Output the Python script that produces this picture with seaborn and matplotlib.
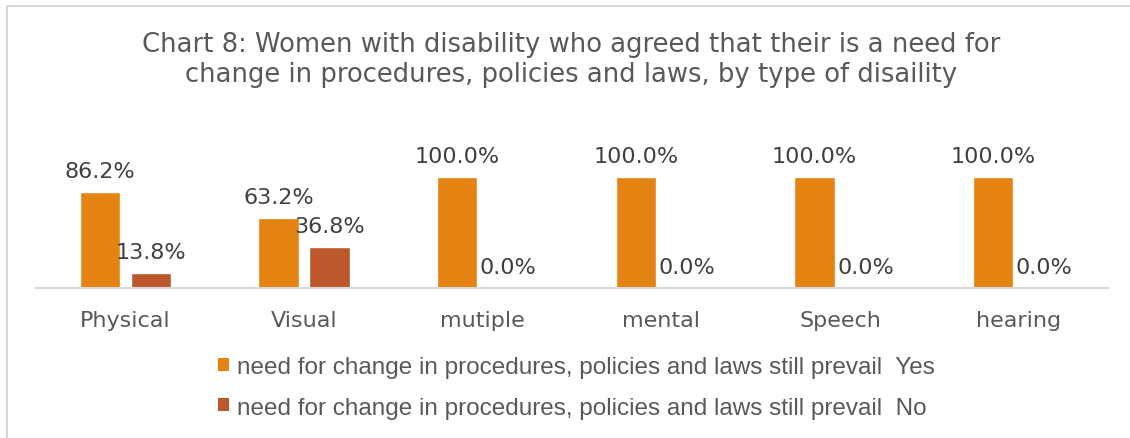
import matplotlib
matplotlib.use("Agg")
import matplotlib.pyplot as plt
from matplotlib.patches import Patch, Rectangle
import seaborn as sns
import pandas as pd

# Data
categories = ["Physical", "Visual", "mutiple", "mental", "Speech", "hearing"]
yes_values = [0.862, 0.632, 1.0, 1.0, 1.0, 1.0]
no_values = [0.138, 0.368, 0.0, 0.0, 0.0, 0.0]
series_names = [
    "need for change in procedures, policies and laws still prevail  Yes",
    "need for change in procedures, policies and laws still prevail  No",
]
title_text = ("Chart 8: Women with disability who agreed that their is a need for\n"
              "change in procedures, policies and laws, by type of disaility")

colors = ["#E48312", "#BD582C"]
text_gray = "#595959"
line_gray = "#D9D9D9"

df = pd.DataFrame({
    "category": categories * 2,
    "value": yes_values + no_values,
    "series": [series_names[0]] * len(categories) + [series_names[1]] * len(categories),
})

sns.set_theme(style="white")
plt.rcParams["font.family"] = ["DejaVu Sans"]

W, H = 1130, 439
fig = plt.figure(figsize=(W / 100, H / 100), dpi=100)
ax = fig.add_axes([36 / W, (H - 289) / H, 1072 / W, 133 / H])

sns.barplot(data=df, x="category", y="value", hue="series", palette=colors,
            width=0.57, gap=0.21, legend=False, ax=ax, saturation=1)

ax.set_ylim(0, 1.2)
ax.set_xlim(-0.5, len(categories) - 0.5)
ax.set_xlabel("")
ax.set_ylabel("")
ax.set_yticks([])
for side in ["top", "right", "left"]:
    ax.spines[side].set_visible(False)
ax.spines["bottom"].set_color(line_gray)
ax.spines["bottom"].set_linewidth(1.5)
ax.tick_params(axis="x", length=0, pad=15.5, labelsize=16, labelcolor=text_gray)

for container, vals in zip(ax.containers, [yes_values, no_values]):
    ax.bar_label(container, labels=[f"{v:.1%}" for v in vals], padding=8,
                 fontsize=16, color="#404040")

fig.text(571 / W, 1 - 60 / H, title_text, ha="center", va="center",
         fontsize=18.6, color=text_gray, linespacing=1.2)

handles = [Patch(facecolor=c, edgecolor="none") for c in colors]
fig.legend(handles, series_names, loc="center left",
           bbox_to_anchor=(196 / W, 1 - 388.5 / H), frameon=False,
           handlelength=0.45, handleheight=0.45, handletextpad=0.35,
           labelspacing=0.75, prop={"family": "Liberation Sans", "size": 17.5},
           labelcolor=text_gray)

fig.patches.append(Rectangle((7 / W, -0.5), 2.0, (H - 7) / H + 0.5,
                             transform=fig.transFigure, fill=False,
                             edgecolor=line_gray, linewidth=1.5))

fig.savefig("out.png", dpi=100, facecolor="white")
